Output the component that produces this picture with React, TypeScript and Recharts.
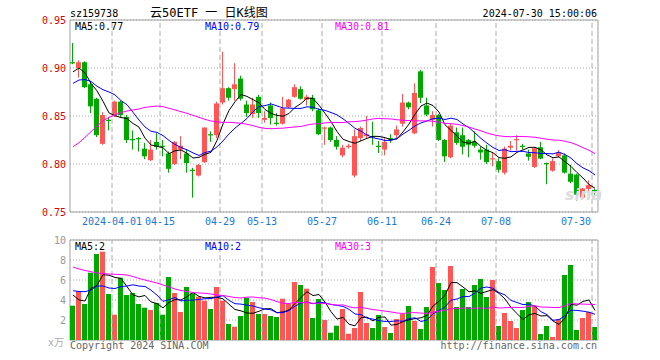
import { ComposedChart, Bar, Line, XAxis, YAxis, CartesianGrid, ReferenceLine, ReferenceArea } from 'recharts'

const opens = [
  0.906, 0.900, 0.906, 0.883, 0.868, 0.821, 0.846, 0.850, 0.865, 0.849,
  0.826, 0.827, 0.816, 0.804, 0.823, 0.819, 0.811, 0.800, 0.815, 0.811,
  0.794, 0.788, 0.802, 0.831, 0.830, 0.864, 0.879, 0.878, 0.889, 0.862,
  0.852, 0.870, 0.846, 0.861, 0.843, 0.842, 0.859, 0.870, 0.878, 0.867,
  0.869, 0.856, 0.837, 0.838, 0.825, 0.809, 0.8175, 0.788, 0.827, 0.829,
  0.829, 0.819, 0.815, 0.827, 0.830, 0.842, 0.864, 0.832, 0.8965, 0.861,
  0.846, 0.851, 0.825, 0.807, 0.833, 0.830, 0.825, 0.823, 0.815, 0.815,
  0.805, 0.803, 0.791, 0.817, 0.825, 0.819, 0.811, 0.797, 0.8174, 0.801,
  0.793, 0.808, 0.809, 0.790, 0.789, 0.765, 0.774, 0.773,
]
const highs = [
  0.926, 0.908, 0.907, 0.886, 0.869, 0.854, 0.849, 0.866, 0.866, 0.851,
  0.835, 0.828, 0.822, 0.825, 0.832, 0.825, 0.813, 0.824, 0.829, 0.815,
  0.796, 0.800, 0.838, 0.834, 0.865, 0.917, 0.880, 0.905, 0.892, 0.866,
  0.869, 0.872, 0.855, 0.864, 0.853, 0.870, 0.868, 0.883, 0.881, 0.872,
  0.872, 0.858, 0.839, 0.839, 0.829, 0.820, 0.821, 0.836, 0.839, 0.850,
  0.844, 0.824, 0.827, 0.831, 0.840, 0.873, 0.865, 0.884, 0.898, 0.869,
  0.855, 0.852, 0.826, 0.842, 0.838, 0.838, 0.826, 0.834, 0.818, 0.820,
  0.8115, 0.806, 0.818, 0.824, 0.830, 0.821, 0.815, 0.8175, 0.823, 0.8015,
  0.806, 0.8145, 0.811, 0.799, 0.790, 0.775, 0.783, 0.774,
]
const lows = [
  0.904, 0.890, 0.879, 0.853, 0.828, 0.820, 0.835, 0.849, 0.849, 0.822,
  0.815, 0.813, 0.805, 0.803, 0.815, 0.808, 0.791, 0.799, 0.805, 0.791,
  0.765, 0.787, 0.801, 0.823, 0.827, 0.862, 0.866, 0.866, 0.866, 0.849,
  0.848, 0.848, 0.843, 0.841, 0.840, 0.841, 0.858, 0.869, 0.867, 0.861,
  0.855, 0.830, 0.820, 0.823, 0.815, 0.807, 0.816, 0.786, 0.824, 0.827,
  0.820, 0.8115, 0.809, 0.822, 0.827, 0.839, 0.857, 0.831, 0.8635, 0.8497,
  0.839, 0.824, 0.802, 0.806, 0.820, 0.810, 0.807, 0.817, 0.8045, 0.800,
  0.7976, 0.791, 0.789, 0.814, 0.814, 0.815, 0.8035, 0.7958, 0.805, 0.779,
  0.792, 0.807, 0.790, 0.780, 0.762, 0.7635, 0.771, 0.766,
]
const closes = [
  0.905, 0.906, 0.880, 0.860, 0.830, 0.851, 0.845, 0.865, 0.851, 0.825,
  0.825, 0.826, 0.808, 0.815, 0.818, 0.818, 0.795, 0.823, 0.819, 0.801,
  0.793, 0.799, 0.838, 0.830, 0.863, 0.879, 0.869, 0.883, 0.868, 0.853,
  0.862, 0.853, 0.848, 0.848, 0.842, 0.858, 0.867, 0.880, 0.868, 0.870,
  0.857, 0.831, 0.838, 0.825, 0.818, 0.817, 0.819, 0.829, 0.8375, 0.831,
  0.828, 0.818, 0.823, 0.826, 0.836, 0.864, 0.859, 0.874, 0.869, 0.8514,
  0.851, 0.825, 0.808, 0.840, 0.822, 0.818, 0.820, 0.819, 0.812, 0.802,
  0.806, 0.794, 0.816, 0.819, 0.826, 0.818, 0.8075, 0.8165, 0.8056, 0.800,
  0.803, 0.812, 0.791, 0.7815, 0.768, 0.7745, 0.778, 0.772,
]
// 成交量 (万)
const volumes = [
  3.43, 4.9, 3.6, 6.73, 8.6, 8.83, 4.6, 2.53, 6.23, 4.5,
  4.7, 3.6, 3.23, 3.0, 3.7, 2.53, 6.3, 4.7, 2.8, 5.3,
  4.67, 4.33, 3.93, 3.1, 5.3, 3.93, 1.6, 1.33, 2.4, 4.23,
  3.8, 2.6, 2.6, 2.4, 2.3, 4.13, 3.6, 5.8, 5.5, 5.13,
  2.2, 4.1, 2.0, 0.73, 1.43, 3.1, 0.63, 1.2, 4.8, 1.7,
  1.2, 2.5, 1.3, 0.7, 2.1, 2.6, 3.4, 1.9, 1.1, 3.3,
  7.3, 5.7, 5.0, 7.4, 3.3, 5.1, 3.3, 5.5, 6.1, 4.3,
  6.0, 1.4, 2.7, 1.9, 1.2, 3.0, 3.8, 3.4, 0.6, 1.4,
  0.3, 2.1, 6.5, 7.5, 1.0, 2.2, 2.8, 1.3,
]

// MA points at the start (their window reaches before the first candle)
const ma5Lead = [0.896, 0.9, 0.895, 0.884]
const ma10Lead = [0.884, 0.8875, 0.888, 0.886, 0.881, 0.8774, 0.875, 0.872, 0.866]
const ma30Lead = [
  0.818, 0.8222, 0.8278, 0.8337, 0.8396, 0.845, 0.8486, 0.851, 0.8535, 0.8552,
  0.8563, 0.8573, 0.859, 0.8597, 0.8604, 0.8597, 0.858, 0.8563, 0.8545, 0.8528,
  0.8507, 0.8486, 0.8465, 0.8448, 0.8438, 0.8434, 0.8434, 0.843, 0.8424,
]
const vma5Lead = [4.5, 4.0, 3.9, 5.17]
const vma10Lead = [4.93, 4.85, 4.83, 5.0, 5.4, 5.4, 5.2, 5.15, 5.35]
const vma30Lead = [
  7.3, 7.1, 6.95, 6.83, 6.7, 6.65, 6.6, 6.57, 6.55, 6.5,
  6.35, 6.15, 6.0, 5.85, 5.7, 5.5, 5.3, 5.1, 4.95, 4.85,
  4.75, 4.7, 4.67, 4.6, 4.5, 4.45, 4.35, 4.25, 4.2,
]

const dateTicks = [7, 15, 25, 32, 42, 52, 61, 71, 87]
const dateLabels = ['2024-04-01', '04-15', '04-29', '05-13', '05-27', '06-11', '06-24', '07-08', '07-30']
const priceTicks = [0.75, 0.8, 0.85, 0.9, 0.95]
const volTicks = [2, 4, 6, 8, 10]

const RED = '#ff5555'
const GREEN = '#00a800'
const MONO = '"DejaVu Sans Mono", "Noto Sans CJK SC", monospace'

const movingAvg = (vals: number[], n: number, lead: number[]) =>
  vals.map((_, i) =>
    i < lead.length ? lead[i] : vals.slice(i - n + 1, i + 1).reduce((a, b) => a + b, 0) / n
  )

const ma5 = movingAvg(closes, 5, ma5Lead)
const ma10 = movingAvg(closes, 10, ma10Lead)
const ma30 = movingAvg(closes, 30, ma30Lead)
const vma5 = movingAvg(volumes, 5, vma5Lead)
const vma10 = movingAvg(volumes, 10, vma10Lead)
const vma30 = movingAvg(volumes, 30, vma30Lead)

const data = closes.map((c, i) => ({
  x: i + 0.5,
  open: opens[i],
  high: highs[i],
  low: lows[i],
  close: c,
  up: c >= opens[i],
  vol: volumes[i],
  ma5: ma5[i],
  ma10: ma10[i],
  ma30: ma30[i],
  vma5: vma5[i],
  vma10: vma10[i],
  vma30: vma30[i],
}))

const Candle = (props: any) => {
  const { x, y, width, height, payload } = props
  const { open, close, high, low, up } = payload
  const left = Math.round(x + width / 2 - 3)
  const k = height / (high - low)
  const py = (v: number) => y + (high - v) * k
  const color = up ? RED : GREEN
  const top = py(Math.max(open, close))
  const bot = py(Math.min(open, close))
  return (
    <g>
      <line x1={left + 2.5} x2={left + 2.5} y1={y} y2={y + height} stroke={color} strokeWidth={1} />
      <rect x={left} y={top} width={5} height={Math.max(bot - top, 1.2)} fill={color} />
    </g>
  )
}

const VolBar = (props: any) => {
  const { x, y, width, height, payload } = props
  const left = Math.round(x + width / 2 - 3)
  return <rect x={left} y={y} width={5} height={height} fill={payload.up ? RED : GREEN} />
}

const PriceTick = ({ x, y, payload }: any) => (
  <text x={x} y={y + 4} textAnchor="end" fill="#e00000" fontSize={10} fontFamily={MONO}>
    {payload.value.toFixed(2)}
  </text>
)

const VolTick = ({ x, y, payload }: any) => (
  <text x={x} y={y + 4} textAnchor="end" fill="#999" fontSize={10} fontFamily={MONO}>
    {payload.value}
  </text>
)

const DateTick = ({ x, y, payload }: any) => {
  const idx = dateTicks.indexOf(payload.value)
  const last = idx === dateTicks.length - 1
  return (
    <text x={last ? x - 1 : x} y={y + 12.5} textAnchor={last ? 'end' : 'middle'} fill="#1e78d2" fontSize={10} fontFamily={MONO}>
      {dateLabels[idx]}
    </text>
  )
}

const vLines = dateTicks.map(t => (
  <ReferenceLine key={t} x={t} stroke="#aaa" strokeDasharray="5 3" />
))

export default function App() {
  return (
    <div style={{ position: 'fixed', left: 0, top: 0, width: 660, height: 360, background: '#fff', overflow: 'hidden' }}>
      <div style={{ position: 'absolute', left: 0, top: 0 }}>
        <ComposedChart width={660} height={360} data={data} margin={{ top: 240, right: 62, bottom: 20, left: 10 }}>
          <CartesianGrid vertical={false} stroke="#aaa" strokeDasharray="1 2" />
          <XAxis type="number" dataKey="x" domain={[0, 88]} ticks={dateTicks} hide />
          <YAxis
            domain={[0, 10]}
            ticks={volTicks}
            interval={0}
            width={60}
            axisLine={false}
            tickLine={false}
            tickSize={0}
            tickMargin={4}
            tick={VolTick}
            allowDataOverflow
          />
          {vLines}
          <Bar dataKey="vol" barSize={5} shape={VolBar} isAnimationActive={false} />
          <Line dataKey="vma5" stroke="#000" strokeWidth={1} dot={false} isAnimationActive={false} />
          <Line dataKey="vma10" stroke="#0000ff" strokeWidth={1} dot={false} isAnimationActive={false} />
          <Line dataKey="vma30" stroke="#ff00ff" strokeWidth={1} dot={false} isAnimationActive={false} />
          <ReferenceArea x1={0} x2={88} y1={0} y2={10} fill="none" stroke="#a0a0a0" />
        </ComposedChart>
      </div>
      <div style={{ position: 'absolute', left: 0, top: 0 }}>
        <ComposedChart width={660} height={360} data={data} margin={{ top: 20, right: 62, bottom: 128, left: 10 }}>
          <CartesianGrid vertical={false} stroke="#aaa" strokeDasharray="1 2" />
          <XAxis
            type="number"
            dataKey="x"
            domain={[0, 88]}
            ticks={dateTicks}
            interval={0}
            height={20}
            axisLine={false}
            tickLine={false}
            tickSize={0}
            tickMargin={0}
            tick={DateTick}
          />
          <YAxis
            domain={[0.75, 0.95]}
            ticks={priceTicks}
            interval={0}
            width={60}
            axisLine={false}
            tickLine={false}
            tickSize={0}
            tickMargin={4}
            tick={PriceTick}
            allowDataOverflow
          />
          {vLines}
          <Bar dataKey={(d: any) => [d.low, d.high]} barSize={5} shape={Candle} isAnimationActive={false} />
          <Line dataKey="ma5" stroke="#000" strokeWidth={1} dot={false} isAnimationActive={false} />
          <Line dataKey="ma10" stroke="#0000ff" strokeWidth={1} dot={false} isAnimationActive={false} />
          <Line dataKey="ma30" stroke="#ff00ff" strokeWidth={1} dot={false} isAnimationActive={false} />
          <ReferenceArea x1={0} x2={88} y1={0.75} y2={0.95} fill="none" stroke="#a0a0a0" />
        </ComposedChart>
      </div>
      <svg width={660} height={360} style={{ position: 'absolute', left: 0, top: 0, pointerEvents: 'none' }} fontFamily={MONO}>
        <text x={70} y={16.5} fontSize={10} fill="#000">sz159738</text>
        <text x={150} y={17} fontSize={12} fill="#000">云50ETF 一 日K线图</text>
        <text x={597} y={16.5} fontSize={10} fill="#000" textAnchor="end">2024-07-30 15:00:06</text>
        <text x={75} y={30} fontSize={10} fill="#000">MA5:0.77</text>
        <text x={205} y={30} fontSize={10} fill="#0000ff">MA10:0.79</text>
        <text x={335} y={30} fontSize={10} fill="#ff00ff">MA30:0.81</text>
        <text x={75} y={250} fontSize={10} fill="#000">MA5:2</text>
        <text x={205} y={250} fontSize={10} fill="#0000ff">MA10:2</text>
        <text x={335} y={250} fontSize={10} fill="#ff00ff">MA30:3</text>
        <text x={48} y={346} fontSize={10} fill="#aaa">x万</text>
        <text x={70} y={348.5} fontSize={10} fill="#666">Copyright 2024 SINA.COM</text>
        <text x={597} y={348.5} fontSize={10} fill="#666" textAnchor="end">http://finance.sina.com.cn</text>
        <text x={565} y={200} fontSize={16} fontStyle="italic" fontWeight="bold" fill="#dcdcdc" fontFamily="'DejaVu Sans', sans-serif">sina</text>
      </svg>
    </div>
  )
}
